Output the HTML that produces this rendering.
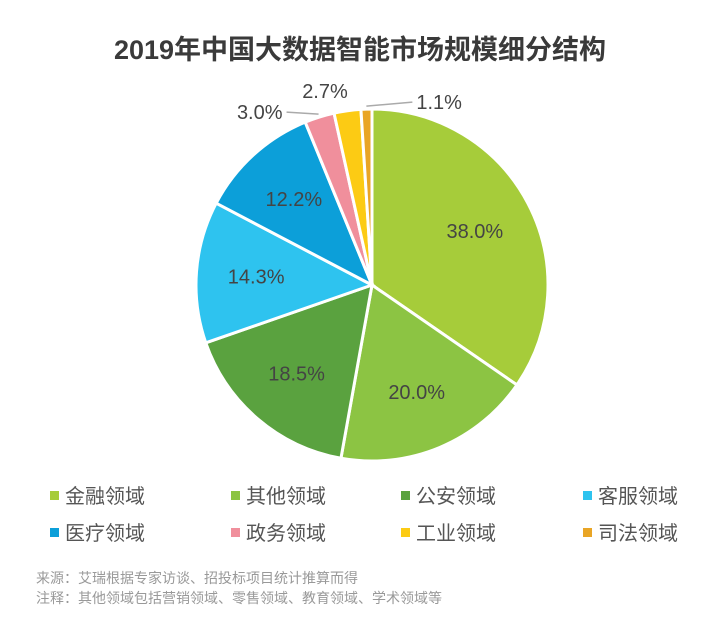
<!DOCTYPE html>
<html><head><meta charset="utf-8"><style>
body{margin:0;width:720px;height:617px;background:#fff;overflow:hidden;font-family:"Liberation Sans","Noto Sans CJK SC",sans-serif;}
#t{position:absolute;top:28px;left:0;width:720px;text-align:center;font-size:27px;font-weight:bold;color:#3a3a3a;}
.lg{position:absolute;font-size:20px;color:#555;}
.lg i{display:inline-block;width:9px;height:9px;margin-right:6px;vertical-align:3px;}
.fn{position:absolute;left:36px;font-size:14px;color:#999;}
</style></head><body>
<div id="t">2019年中国大数据智能市场规模细分结构</div>
<svg id="pie" width="720" height="617" style="position:absolute;left:0;top:0"></svg>
<div id="legend"></div>
<div class="fn" style="top:568px">来源：艾瑞根据专家访谈、招投标项目统计推算而得</div>
<div class="fn" style="top:588px">注释：其他领域包括营销领域、零售领域、教育领域、学术领域等</div>
<script>
const categories=["金融领域","其他领域","公安领域","客服领域","医疗领域","政务领域","工业领域","司法领域"];
const values=[38.0,20.0,18.5,14.3,12.2,3.0,2.7,1.1];
const colors=["#a6cc3a","#8cc443","#5aa23f","#2ec3ef","#0c9fd9","#f08f9c","#fccb14","#e9a525"];
const NS="http://www.w3.org/2000/svg";
const svg=document.getElementById('pie');
const cx=372,cy=285,r=176;
const total=values.reduce((a,b)=>a+b,0);
function pt(a,rr){return [cx+rr*Math.sin(a),cy-rr*Math.cos(a)];}
// label placement for small slices: [dx end of leader, dy, side]
const smallStyle={5:{dx:-32,dy:-2,side:'L'},6:{dx:0,dy:-10,side:'T'},7:{dx:46,dy:-4,side:'R'}};
let a0=0;
values.forEach((v,i)=>{
  const a1=a0+v/total*2*Math.PI;
  const p0=pt(a0,r),p1=pt(a1,r);
  const large=(a1-a0)>Math.PI?1:0;
  const p=document.createElementNS(NS,'path');
  p.setAttribute('d',`M${cx},${cy}L${p0[0]},${p0[1]}A${r},${r} 0 ${large} 1 ${p1[0]},${p1[1]}Z`);
  p.setAttribute('fill',colors[i]);p.setAttribute('stroke','#fff');p.setAttribute('stroke-width','3');
  
  
  svg.appendChild(p);
  const m=(a0+a1)/2;
  const tx=document.createElementNS(NS,'text');
  tx.setAttribute('font-size','20');tx.setAttribute('fill','#444');
  tx.setAttribute('font-family','"Liberation Sans",sans-serif');
  tx.textContent=v.toFixed(1)+'%';
  if(v>=5){
    const q=pt(m,r*0.66);
    tx.setAttribute('x',q[0]);tx.setAttribute('y',q[1]+7);tx.setAttribute('text-anchor','middle');
  } else {
    const s=smallStyle[i]||{dx:0,dy:-10,side:'T'};
    const q=pt(m,r+3);
    if(s.side==='T'){
      tx.setAttribute('x',q[0]-22);tx.setAttribute('y',q[1]+s.dy);tx.setAttribute('text-anchor','middle');
    } else {
      const ex=q[0]+s.dx, ey=q[1]+s.dy;
      const ln=document.createElementNS(NS,'polyline');
      ln.setAttribute('points',`${q[0]},${q[1]} ${ex},${ey}`);
      ln.setAttribute('fill','none');ln.setAttribute('stroke','#aaa');ln.setAttribute('stroke-width','1.5');
      
      
      svg.appendChild(ln);
      tx.setAttribute('x',s.side==='R'?ex+4:ex-4);tx.setAttribute('y',ey+7);
      tx.setAttribute('text-anchor',s.side==='R'?'start':'end');
    }
  }
  
  
  svg.appendChild(tx);
  a0=a1;
});
const lx=[50,231,401,583],ly=[480,517];
const lg=document.getElementById('legend');
categories.forEach((c,i)=>{
  const d=document.createElement('div');
  d.className='lg';
  d.style.left=lx[i%4]+'px';d.style.top=ly[Math.floor(i/4)]+'px';
  d.innerHTML=`<i style="background:${colors[i]}"></i>${c}`;
  
  
  lg.appendChild(d);
});
</script>
</body></html>
